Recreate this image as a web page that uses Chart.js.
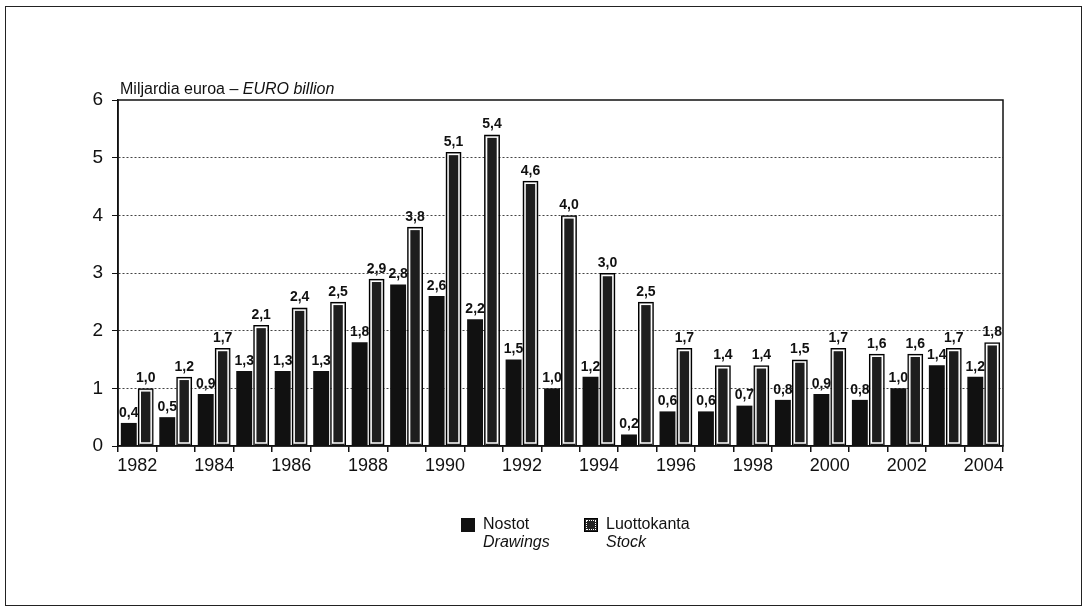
<!DOCTYPE html>
<html>
<head>
<meta charset="utf-8">
<script src="https://cdn.jsdelivr.net/npm/chart.js@4/dist/chart.umd.min.js"></script>
<style>
  body { margin: 0; background: #fff; font-family: "Liberation Sans", Arial, sans-serif; }
  #wrap { position: relative; width: 1089px; height: 614px; }
  #frame { position: absolute; left: 5px; top: 6px; width: 1077px; height: 600px; border: 1px solid #222; box-sizing: border-box; pointer-events: none; }
  .leg { position: absolute; top: 515px; font-size: 16px; line-height: 18px; color: #111; }
  .leg .sw { position: absolute; left: -22px; top: 3px; width: 14px; height: 14px; box-sizing: border-box; }
  .leg i { display: block; }
</style>
</head>
<body>
<div id="wrap">
  <canvas id="chart" width="1089" height="614"></canvas>
  <div id="frame"></div>
  <div class="leg" style="left:483px"><span class="sw" style="background:#111"></span>Nostot<i>Drawings</i></div>
  <div class="leg" style="left:606px"><span class="sw" style="background:#222;border:1px solid #000;outline:1px dotted #fff;outline-offset:-3px"></span>Luottokanta<i>Stock</i></div>
</div>
<script>
// Loans: drawings and stock, billions of euro
const years = ['1982', '1983', '1984', '1985', '1986', '1987', '1988', '1989', '1990', '1991', '1992', '1993',
  '1994', '1995', '1996', '1997', '1998', '1999', '2000', '2001', '2002', '2003', '2004'];
const drawings = [0.4, 0.5, 0.9, 1.3, 1.3, 1.3, 1.8, 2.8, 2.6, 2.2, 1.5, 1.0,
  1.2, 0.2, 0.6, 0.6, 0.7, 0.8, 0.9, 0.8, 1.0, 1.4, 1.2];
const stock = [1.0, 1.2, 1.7, 2.1, 2.4, 2.5, 2.9, 3.8, 5.1, 5.4, 4.6, 4.0,
  3.0, 2.5, 1.7, 1.4, 1.4, 1.5, 1.7, 1.6, 1.6, 1.7, 1.8];
const yTicks = [0, 1, 2, 3, 4, 5, 6];

const labelFont = 'bold 14px "Liberation Sans Narrow", "Liberation Sans", Arial, sans-serif';

// frame around plot + axis title
const framePlugin = {
  id: 'framePlugin',
  afterDraw(chart) {
    const ctx = chart.ctx;
    const a = chart.chartArea;
    ctx.save();
    ctx.setLineDash([]);
    ctx.strokeStyle = '#111';
    ctx.lineWidth = 1.5;
    ctx.strokeRect(a.left, a.top, a.right - a.left, a.bottom - a.top);

    ctx.fillStyle = '#111';
    ctx.textBaseline = 'alphabetic';
    ctx.font = '16px "Liberation Sans", Arial, sans-serif';
    const first = 'Miljardia euroa \u2013 ';
    ctx.fillText(first, a.left + 2, a.top - 6);
    const w = ctx.measureText(first).width;
    ctx.font = 'italic 16px "Liberation Sans", Arial, sans-serif';
    ctx.fillText('EURO billion', a.left + 2 + w, a.top - 6);
    ctx.restore();
  }
};

// inner white line on stock bars + value labels
const barPlugin = {
  id: 'barPlugin',
  afterDatasetsDraw(chart) {
    const ctx = chart.ctx;
    ctx.save();
    const stockMeta = chart.getDatasetMeta(1);
    ctx.strokeStyle = '#fff';
    ctx.lineWidth = 1.5;
    stockMeta.data.forEach(bar => {
      const left = bar.x - bar.width / 2;
      ctx.strokeRect(left + 2.5, bar.y + 2.5, bar.width - 5, bar.base - bar.y - 5);
    });

    ctx.fillStyle = '#111';
    ctx.font = labelFont;
    ctx.textAlign = 'center';
    ctx.textBaseline = 'bottom';
    chart.data.datasets.forEach((ds, i) => {
      chart.getDatasetMeta(i).data.forEach((bar, j) => {
        const txt = ds.data[j].toFixed(1).replace('.', ',');
        ctx.fillText(txt, bar.x, bar.y - 3);
      });
    });
    ctx.restore();
  }
};

const ctx = document.getElementById('chart').getContext('2d');
const chart = new Chart(ctx, {
  type: 'bar',
  data: {
    labels: years,
    datasets: [
      {
        label: 'Nostot',
        data: drawings,
        backgroundColor: '#111',
        borderWidth: 0,
        categoryPercentage: 0.88,
        barPercentage: 0.94
      },
      {
        label: 'Luottokanta',
        data: stock,
        backgroundColor: '#1e1e1e',
        borderColor: '#000',
        borderWidth: 1.5,
        categoryPercentage: 0.88,
        barPercentage: 0.94
      }
    ]
  },
  options: {
    responsive: false,
    animation: false,
    layout: { padding: { left: 0, right: 86, top: 100, bottom: 138 } },
    plugins: {
      legend: { display: false },
      tooltip: { enabled: false }
    },
    scales: {
      x: {
        grid: {
          offset: true,
          drawOnChartArea: false,
          drawTicks: true,
          tickLength: 6,
          tickColor: '#111',
          lineWidth: 1.5
        },
        border: { color: '#111', width: 1.5 },
        ticks: {
          autoSkip: false,
          maxRotation: 0,
          padding: 3,
          color: '#111',
          font: { family: '"Liberation Sans", Arial, sans-serif', size: 18 },
          callback: (v, i) => (i % 2 === 0 ? years[i] : '')
        },
        afterFit: scale => { scale.height = 30; }
      },
      y: {
        min: yTicks[0],
        max: yTicks[yTicks.length - 1],
        afterBuildTicks: scale => { scale.ticks = yTicks.map(v => ({ value: v })); },
        grid: {
          color: c => (c.tick.value === 0 || c.tick.value === 6 ? 'rgba(0,0,0,0)' : '#444'),
          tickColor: '#111',
          tickLength: 6,
          tickBorderDash: [],
          lineWidth: 1
        },
        border: { color: '#111', width: 1.5, dash: [2, 2] },
        ticks: {
          color: '#111',
          padding: 9,
          font: { family: '"Liberation Sans", Arial, sans-serif', size: 19 }
        },
        afterFit: scale => { scale.width = 118; }
      }
    }
  },
  plugins: [framePlugin, barPlugin]
});
</script>
</body>
</html>
